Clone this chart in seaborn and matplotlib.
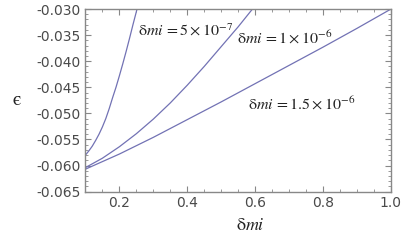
import numpy as np
import pandas as pd
import matplotlib
matplotlib.use("Agg")
import matplotlib.pyplot as plt
from matplotlib.ticker import MultipleLocator, FormatStrFormatter
import seaborn as sns

# curve values (delta_m on x, epsilon on y)
x_5e7 = [0.100, 0.110, 0.120, 0.130, 0.140, 0.150, 0.160, 0.170, 0.180, 0.190,
         0.200, 0.210, 0.220, 0.230, 0.240, 0.252, 0.256]
y_5e7 = [-0.0580, -0.0572, -0.0563, -0.0552, -0.0540, -0.0526, -0.0510, -0.0491,
         -0.0470, -0.0450, -0.0428, -0.0405, -0.0381, -0.0356, -0.0330, -0.0300, -0.0290]

x_1e6 = [0.10, 0.15, 0.20, 0.25, 0.30, 0.35, 0.40, 0.45, 0.50, 0.55, 0.592, 0.60]
y_1e6 = [-0.0604, -0.0586, -0.0564, -0.0539, -0.0511, -0.0480, -0.0446, -0.0410,
         -0.0372, -0.0334, -0.0300, -0.0294]

x_15e6 = [0.1, 0.2, 0.3, 0.4, 0.5, 0.6, 0.7, 0.8, 0.9, 1.0]
y_15e6 = [-0.0607, -0.0578, -0.0546, -0.0512, -0.0478, -0.0443, -0.0408, -0.0373,
          -0.0337, -0.0300]

labels = [r"$\mathrm{\delta}\mathit{mi}\,\mathrm{=5\times10^{-7}}$",
          r"$\mathrm{\delta}\mathit{mi}\,\mathrm{=1\times10^{-6}}$",
          r"$\mathrm{\delta}\mathit{mi}\,\mathrm{=1.5\times10^{-6}}$"]
label_pos = [(0.255, -0.0341), (0.548, -0.0355), (0.580, -0.0481)]

sns.set_style("ticks")
plt.rcParams["mathtext.fontset"] = "stix"
plt.rcParams["font.family"] = ["DejaVu Sans"]

df = pd.concat([
    pd.DataFrame({"x": x_5e7, "y": y_5e7, "curve": "a"}),
    pd.DataFrame({"x": x_1e6, "y": y_1e6, "curve": "b"}),
    pd.DataFrame({"x": x_15e6, "y": y_15e6, "curve": "c"}),
])

fig = plt.figure(figsize=(4.03, 2.45), dpi=100)
ax = fig.add_axes([0.212, 0.218, 0.758, 0.745])

line_col = "#7272b4"
for name, grp in df.groupby("curve"):
    sns.lineplot(data=grp, x="x", y="y", ax=ax, color=line_col, lw=0.9,
                 sort=False, estimator=None, legend=False)

for lab, (lx, ly) in zip(labels, label_pos):
    ax.text(lx, ly, lab, fontsize=11.5, va="center", ha="left", color="#222222")

ax.set_xlim(0.1, 1.0)
ax.set_ylim(-0.065, -0.030)
ax.xaxis.set_major_locator(MultipleLocator(0.2))
ax.xaxis.set_minor_locator(MultipleLocator(0.05))
ax.yaxis.set_major_locator(MultipleLocator(0.005))
ax.yaxis.set_minor_locator(MultipleLocator(0.001))
ax.yaxis.set_major_formatter(FormatStrFormatter("%.3f"))
ax.xaxis.set_major_formatter(FormatStrFormatter("%.1f"))

frame_col = "#888888"
for sp in ax.spines.values():
    sp.set_color(frame_col)
    sp.set_linewidth(1.0)
ax.tick_params(which="both", direction="in", top=True, right=True, color=frame_col,
               labelcolor="#4a4a4a", labelsize=10)
ax.tick_params(which="major", length=4, width=0.8)
ax.tick_params(which="minor", length=2, width=0.6)

ax.set_xlabel(r"$\mathrm{\delta}\mathit{mi}$", fontsize=13, labelpad=4, color="#222222",
              x=0.54)
ax.set_ylabel("ϵ", fontsize=14, rotation=0, labelpad=14, va="center",
              color="#222222", family=["STIXGeneral", "DejaVu Sans"])

fig.savefig("out.png", dpi=100)
